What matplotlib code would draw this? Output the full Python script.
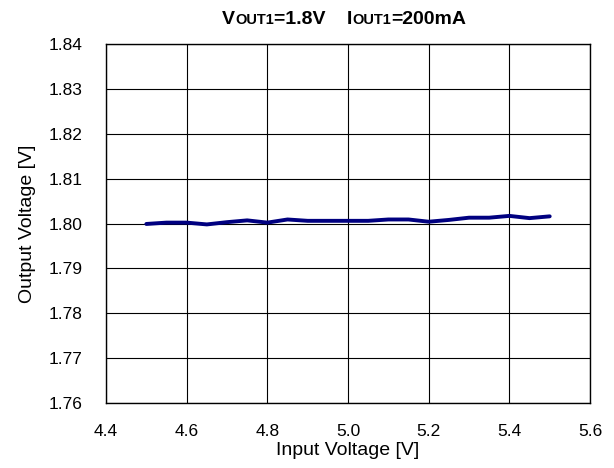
import matplotlib
matplotlib.use("Agg")
import matplotlib.pyplot as plt

plt.rcParams['font.family'] = ['Liberation Sans', 'DejaVu Sans']

# input voltage [V] and output voltage [V]
vin = [4.5, 4.55, 4.6, 4.65, 4.7, 4.75, 4.8, 4.85, 4.9, 4.95, 5.0, 5.05,
       5.1, 5.15, 5.2, 5.25, 5.3, 5.35, 5.4, 5.45, 5.5]
vout = [1.7999, 1.8002, 1.8002, 1.7998, 1.8003, 1.8007, 1.8002, 1.8009, 1.8006,
        1.8006, 1.8006, 1.8006, 1.8009, 1.8009, 1.8004, 1.8008, 1.8013, 1.8013,
        1.8017, 1.8012, 1.8016]

xticks = [4.4, 4.6, 4.8, 5.0, 5.2, 5.4, 5.6]
yticks = [1.76, 1.77, 1.78, 1.79, 1.80, 1.81, 1.82, 1.83, 1.84]

fig = plt.figure(figsize=(6.14, 4.68), dpi=100)
ax = fig.add_axes([0.1726, 0.1389, 0.7884, 0.767])

ax.plot(vin, vout, color='#000080', linewidth=2.8, solid_capstyle='round')

ax.set_xlim(4.4, 5.6)
ax.set_ylim(1.76, 1.84)
ax.set_xticks(xticks)
ax.set_xticklabels([f'{t:.1f}' for t in xticks])
ax.set_yticks(yticks)
ax.set_yticklabels([f'{t:.2f}' for t in yticks])
ax.tick_params(axis='x', length=0, labelsize=12.5, pad=15)
ax.tick_params(axis='y', length=0, labelsize=12.5, pad=17)
ax.grid(True, color='black', linewidth=0.8)
for s in ax.spines.values():
    s.set_color('black')
    s.set_linewidth(1.0)

ax.set_xlabel('Input Voltage [V]', fontsize=14, labelpad=2)
ax.set_ylabel('Output Voltage [V]', fontsize=14, labelpad=9)

# title, "OUT1" set smaller like small caps
pieces = [('V', 14), ('OUT1', 10.5), ('=1.8V    I', 14), ('OUT1', 10.5), ('=200mA', 14)]
fig.canvas.draw()
r = fig.canvas.get_renderer()
texts = [fig.text(0, 0, s, fontsize=fs, fontweight='bold', va='baseline')
         for s, fs in pieces]
x = 222
for t in texts:
    t.set_position((x / 614, 1 - 24 / 468))
    x += t.get_window_extent(r).width

fig.savefig('out.png', dpi=100)
